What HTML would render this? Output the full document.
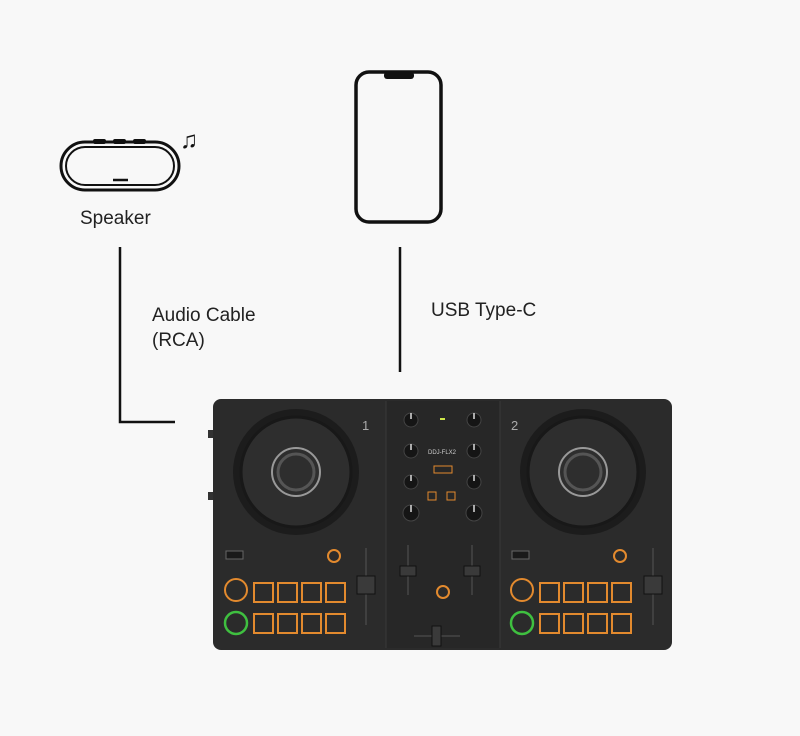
<!DOCTYPE html>
<html><head><meta charset="utf-8"><style>
html,body{margin:0;padding:0;background:#f8f8f8;}
svg{display:block;}
text{font-family:"Liberation Sans",sans-serif;}
</style></head><body>
<svg width="800" height="736" viewBox="0 0 800 736" xmlns="http://www.w3.org/2000/svg">
<rect width="800" height="736" fill="#f8f8f8"/>
<!-- speaker -->
<g fill="none" stroke="#111">
<rect x="93" y="139" width="13" height="5" rx="2" fill="#111" stroke="none"/>
<rect x="113" y="139" width="13" height="5" rx="2" fill="#111" stroke="none"/>
<rect x="133" y="139" width="13" height="5" rx="2" fill="#111" stroke="none"/>
<rect x="61" y="142" width="118" height="48" rx="24" stroke-width="3"/>
<rect x="66" y="147" width="108" height="38" rx="19" stroke-width="2"/>
<line x1="113" y1="180" x2="128" y2="180" stroke-width="2.5"/>
</g>
<text x="180" y="148" font-size="24" fill="#111">♫</text>
<text x="80" y="224" font-size="19" fill="#222">Speaker</text>
<!-- phone -->
<rect x="356" y="72" width="85" height="150" rx="13" fill="none" stroke="#111" stroke-width="3.5"/>
<rect x="384" y="72" width="30" height="7" rx="3" fill="#111"/>
<!-- lines -->
<polyline points="120,247 120,422 175,422" fill="none" stroke="#111" stroke-width="2.5"/>
<line x1="400" y1="247" x2="400" y2="372" stroke="#111" stroke-width="2.5"/>
<text x="152" y="321" font-size="19" fill="#222">Audio Cable</text>
<text x="152" y="346" font-size="19" fill="#222">(RCA)</text>
<text x="431" y="316" font-size="19" fill="#222">USB Type-C</text>
<!-- controller -->
<rect x="208" y="430" width="6" height="8" fill="#333"/>
<rect x="208" y="492" width="6" height="8" fill="#333"/>
<rect x="213" y="399" width="459" height="251" rx="8" fill="#2b2b2b"/>
<rect x="386" y="401" width="114" height="247" fill="#272727"/>
<line x1="386" y1="401" x2="386" y2="648" stroke="#3a3a3a"/>
<line x1="500" y1="401" x2="500" y2="648" stroke="#3a3a3a"/>
<g>
<circle cx="296" cy="472" r="63" fill="#1c1c1c"/>
<circle cx="296" cy="472" r="55" fill="#2e2e2e" stroke="#181818" stroke-width="3"/>
<circle cx="296" cy="472" r="24" fill="none" stroke="#999" stroke-width="2"/>
<circle cx="296" cy="472" r="18" fill="none" stroke="#555" stroke-width="3"/>
<circle cx="583" cy="472" r="63" fill="#1c1c1c"/>
<circle cx="583" cy="472" r="55" fill="#2e2e2e" stroke="#181818" stroke-width="3"/>
<circle cx="583" cy="472" r="24" fill="none" stroke="#999" stroke-width="2"/>
<circle cx="583" cy="472" r="18" fill="none" stroke="#555" stroke-width="3"/>
</g>
<text x="362" y="430" font-size="13" fill="#aaa">1</text>
<text x="511" y="430" font-size="13" fill="#aaa">2</text>
<!-- knobs -->
<g fill="#151515" stroke="#444">
<circle cx="411" cy="420" r="7"/><circle cx="474" cy="420" r="7"/>
<circle cx="411" cy="451" r="7"/><circle cx="474" cy="451" r="7"/>
<circle cx="411" cy="482" r="7"/><circle cx="474" cy="482" r="7"/>
<circle cx="411" cy="513" r="8"/><circle cx="474" cy="513" r="8"/>
</g>
<g stroke="#ddd" stroke-width="1.5">
<line x1="411" y1="413" x2="411" y2="419"/><line x1="474" y1="413" x2="474" y2="419"/>
<line x1="411" y1="444" x2="411" y2="450"/><line x1="474" y1="444" x2="474" y2="450"/>
<line x1="411" y1="475" x2="411" y2="481"/><line x1="474" y1="475" x2="474" y2="481"/>
<line x1="411" y1="505" x2="411" y2="512"/><line x1="474" y1="505" x2="474" y2="512"/>
</g>
<rect x="440" y="418" width="5" height="2" fill="#cde64a"/>
<text x="428" y="454" font-size="6" fill="#ccc">DDJ-FLX2</text>
<rect x="434" y="466" width="18" height="7" fill="none" stroke="#e38a2e"/>
<rect x="428" y="492" width="8" height="8" fill="none" stroke="#e38a2e"/>
<rect x="447" y="492" width="8" height="8" fill="none" stroke="#e38a2e"/>
<!-- faders -->
<g stroke="#555">
<line x1="408" y1="545" x2="408" y2="595"/><line x1="472" y1="545" x2="472" y2="595"/>
<line x1="366" y1="548" x2="366" y2="625"/><line x1="653" y1="548" x2="653" y2="625"/>
<line x1="414" y1="636" x2="460" y2="636"/>
</g>
<rect x="400" y="566" width="16" height="10" fill="#3a3a3a" stroke="#111"/>
<rect x="464" y="566" width="16" height="10" fill="#3a3a3a" stroke="#111"/>
<rect x="357" y="576" width="18" height="18" fill="#3a3a3a" stroke="#111"/>
<rect x="644" y="576" width="18" height="18" fill="#3a3a3a" stroke="#111"/>
<rect x="432" y="626" width="9" height="20" fill="#3a3a3a" stroke="#111"/>
<circle cx="443" cy="592" r="6" fill="#2b2b2b" stroke="#e38a2e" stroke-width="2"/>
<!-- pads left -->
<g fill="none" stroke="#e38a2e" stroke-width="2">
<rect x="254" y="583" width="19" height="19"/><rect x="278" y="583" width="19" height="19"/><rect x="302" y="583" width="19" height="19"/><rect x="326" y="583" width="19" height="19"/>
<rect x="254" y="614" width="19" height="19"/><rect x="278" y="614" width="19" height="19"/><rect x="302" y="614" width="19" height="19"/><rect x="326" y="614" width="19" height="19"/>
<rect x="540" y="583" width="19" height="19"/><rect x="564" y="583" width="19" height="19"/><rect x="588" y="583" width="19" height="19"/><rect x="612" y="583" width="19" height="19"/>
<rect x="540" y="614" width="19" height="19"/><rect x="564" y="614" width="19" height="19"/><rect x="588" y="614" width="19" height="19"/><rect x="612" y="614" width="19" height="19"/>
<circle cx="236" cy="590" r="11"/><circle cx="522" cy="590" r="11"/>
<circle cx="334" cy="556" r="6"/><circle cx="620" cy="556" r="6"/>
</g>
<g fill="none" stroke="#3fc040" stroke-width="2.5">
<circle cx="236" cy="623" r="11"/><circle cx="522" cy="623" r="11"/>
</g>
<rect x="226" y="551" width="17" height="8" fill="#1a1a1a" stroke="#666"/>
<rect x="512" y="551" width="17" height="8" fill="#1a1a1a" stroke="#666"/>
</svg>
</body></html>
